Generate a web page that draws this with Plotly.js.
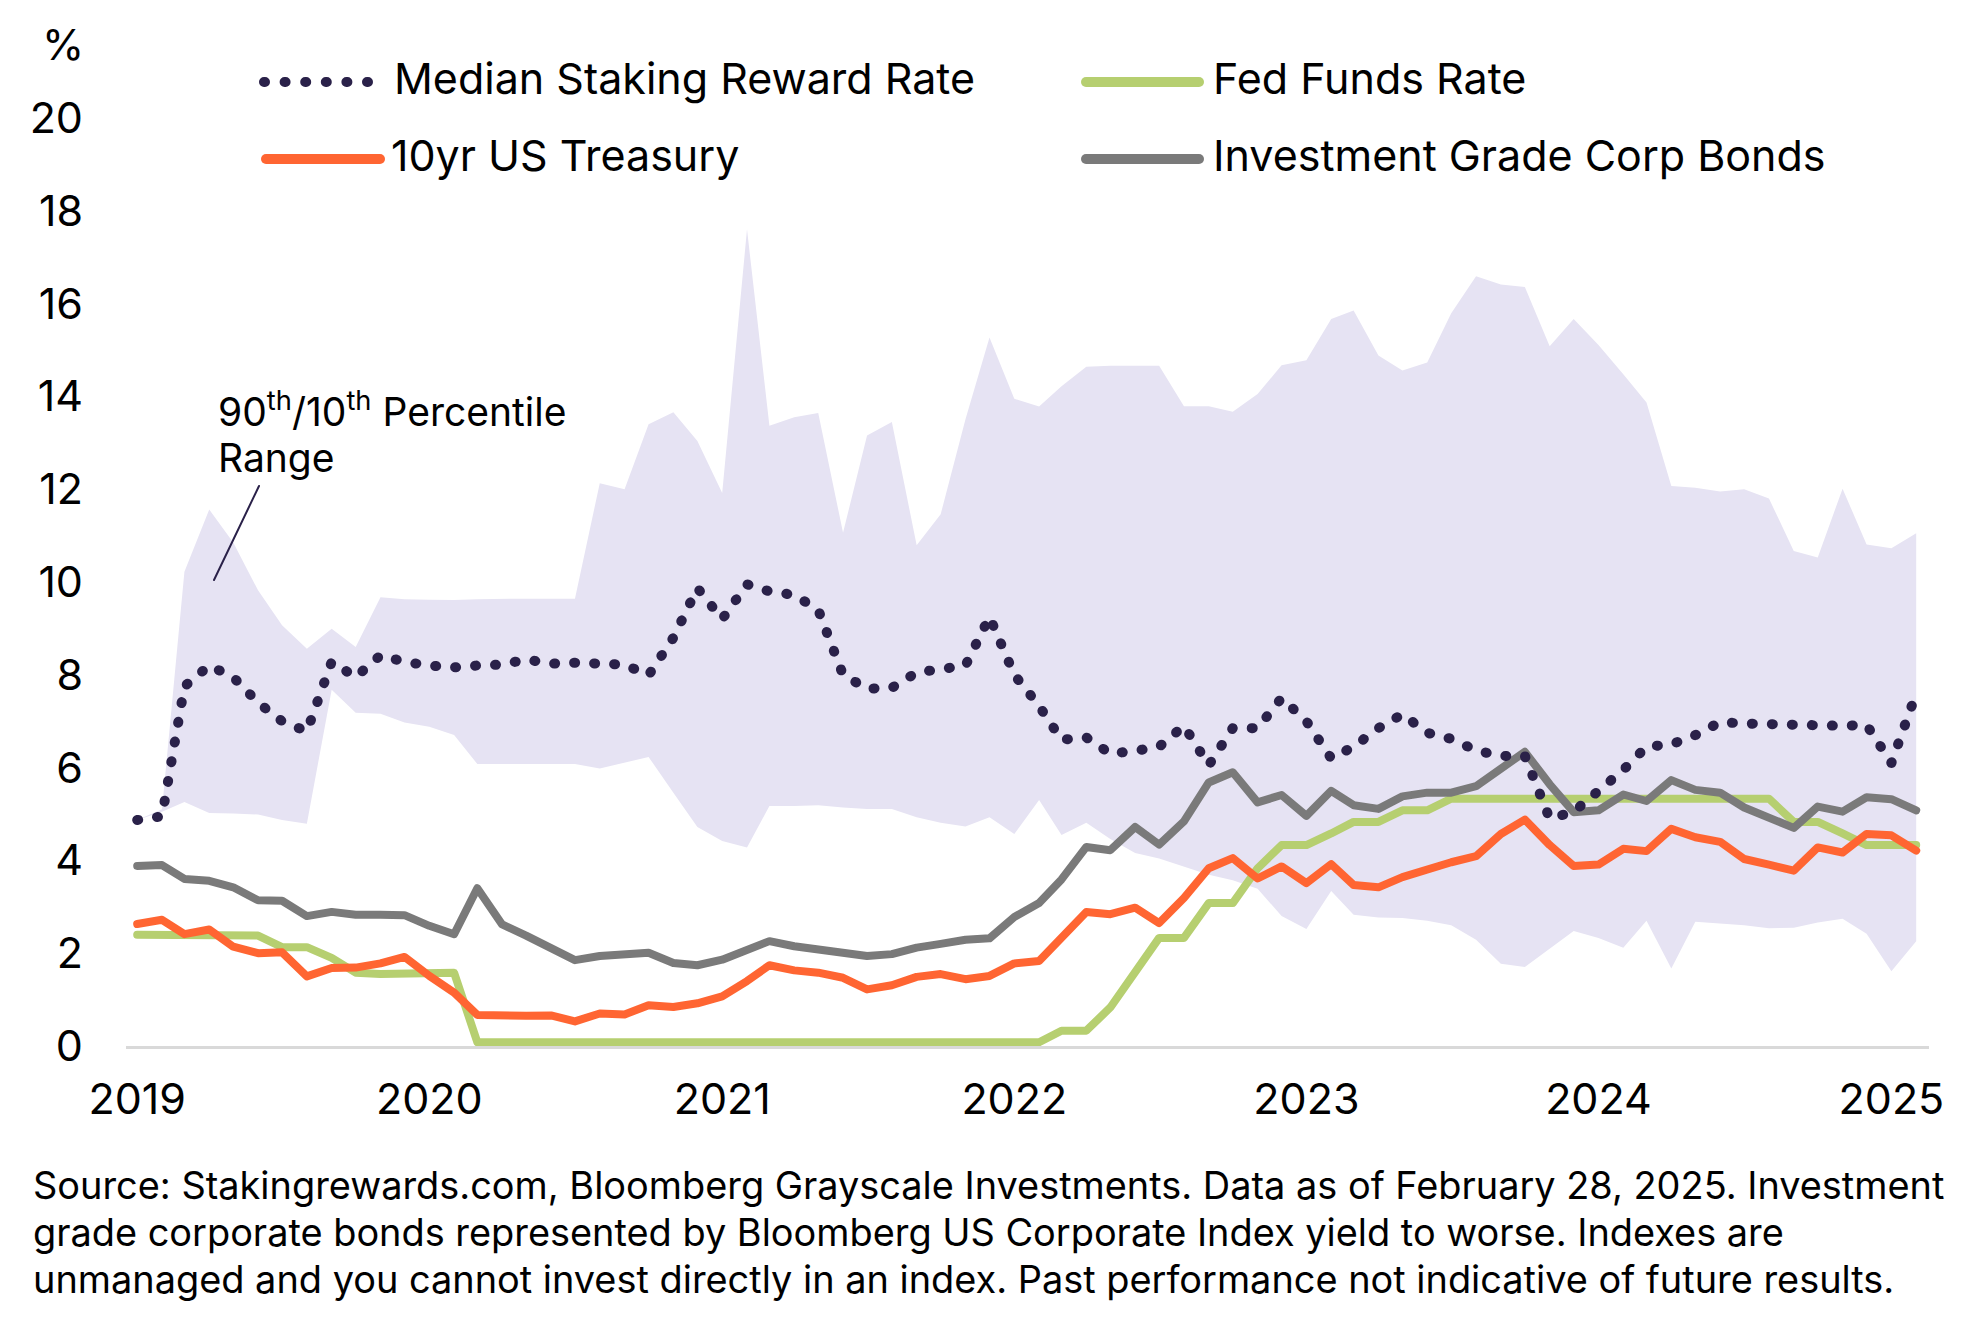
<!DOCTYPE html>
<html>
<head>
<meta charset="utf-8">
<script src="https://cdn.plot.ly/plotly-3.0.1.min.js"></script>
<style>
html,body{margin:0;padding:0;background:#fff;}
#chart{width:1980px;height:1321px;}
</style>
</head>
<body>
<div id="chart"></div>
<script>
// ---- Data (month-end, Jan 2019 – Feb 2025) ----
var months = [
"2019-01","2019-02","2019-03","2019-04","2019-05","2019-06","2019-07","2019-08","2019-09","2019-10","2019-11","2019-12",
"2020-01","2020-02","2020-03","2020-04","2020-05","2020-06","2020-07","2020-08","2020-09","2020-10","2020-11","2020-12",
"2021-01","2021-02","2021-03","2021-04","2021-05","2021-06","2021-07","2021-08","2021-09","2021-10","2021-11","2021-12",
"2022-01","2022-02","2022-03","2022-04","2022-05","2022-06","2022-07","2022-08","2022-09","2022-10","2022-11","2022-12",
"2023-01","2023-02","2023-03","2023-04","2023-05","2023-06","2023-07","2023-08","2023-09","2023-10","2023-11","2023-12",
"2024-01","2024-02","2024-03","2024-04","2024-05","2024-06","2024-07","2024-08","2024-09","2024-10","2024-11","2024-12",
"2025-01","2025-02"];

var medianStaking = [
4.87,4.95,7.75,8.20,7.95,7.40,7.00,6.78,8.28,7.95,8.42,8.28,
8.20,8.16,8.20,8.22,8.33,8.24,8.26,8.24,8.22,7.99,8.80,9.87,
9.20,9.95,9.80,9.72,9.40,8.00,7.70,7.72,8.05,8.12,8.20,9.25,
8.00,7.33,6.60,6.65,6.30,6.36,6.45,6.90,6.05,6.85,6.85,7.50,
7.00,6.20,6.45,6.85,7.15,6.75,6.62,6.37,6.25,6.25,4.90,5.05,
5.50,5.95,6.45,6.50,6.70,6.98,6.95,6.94,6.88,6.88,6.90,6.92,
6.10,7.60];

var pct10 = [
4.87,5.05,5.26,5.02,5.01,4.99,4.87,4.79,7.68,7.18,7.16,6.97,
6.88,6.70,6.08,6.08,6.09,6.08,6.08,5.98,6.11,6.23,5.46,4.72,
4.42,4.28,5.17,5.17,5.19,5.14,5.11,5.11,4.93,4.81,4.73,4.93,
4.57,5.30,4.55,4.81,4.46,4.16,4.04,3.86,3.69,3.57,3.39,2.80,
2.52,3.34,2.83,2.77,2.76,2.70,2.60,2.29,1.77,1.70,2.09,2.48,
2.33,2.12,2.70,1.67,2.68,2.64,2.60,2.54,2.55,2.66,2.74,2.42,
1.61,2.26];

var pct90 = [
4.87,5.10,10.22,11.56,10.85,9.82,9.07,8.56,8.99,8.60,9.67,9.63,
9.62,9.61,9.63,9.64,9.64,9.64,9.64,12.13,12.00,13.40,13.66,13.04,
11.92,17.60,13.37,13.55,13.64,11.06,13.16,13.45,10.79,11.46,13.51,15.27,
13.95,13.78,14.22,14.64,14.66,14.66,14.66,13.79,13.79,13.67,14.05,14.67,
14.78,15.67,15.85,14.88,14.56,14.73,15.79,16.59,16.41,16.36,15.08,15.67,
15.11,14.48,13.87,12.07,12.03,11.95,12.00,11.80,10.67,10.53,12.01,10.81,
10.73,11.05];

var fedFunds = [
2.40,2.40,2.41,2.42,2.38,2.38,2.13,2.13,1.90,1.58,1.55,1.55,
1.55,1.58,0.08,0.08,0.08,0.08,0.08,0.08,0.08,0.08,0.08,0.08,
0.08,0.08,0.08,0.08,0.08,0.08,0.08,0.08,0.08,0.08,0.08,0.08,
0.08,0.08,0.33,0.33,0.83,1.58,2.33,2.33,3.08,3.08,3.83,4.33,
4.33,4.58,4.83,4.83,5.08,5.08,5.33,5.33,5.33,5.33,5.33,5.33,
5.33,5.33,5.33,5.33,5.33,5.33,5.33,5.33,4.83,4.83,4.58,4.33,
4.33,4.33];

var treasury10y = [
2.63,2.72,2.41,2.51,2.14,2.00,2.02,1.50,1.68,1.69,1.78,1.92,
1.51,1.15,0.67,0.64,0.65,0.66,0.53,0.70,0.68,0.88,0.84,0.92,
1.07,1.40,1.74,1.63,1.58,1.47,1.22,1.31,1.49,1.55,1.44,1.51,
1.78,1.83,2.32,2.89,2.84,2.98,2.65,3.19,3.83,4.05,3.61,3.87,
3.51,3.92,3.47,3.42,3.64,3.81,3.96,4.09,4.57,4.88,4.33,3.88,
3.91,4.25,4.20,4.68,4.50,4.40,4.03,3.91,3.78,4.28,4.17,4.57,
4.54,4.21];

var igCorp = [
3.88,3.90,3.60,3.56,3.42,3.14,3.13,2.80,2.89,2.83,2.83,2.82,
2.59,2.41,3.40,2.62,2.38,2.12,1.85,1.94,1.99,2.01,1.79,1.74,
1.86,2.06,2.26,2.15,2.09,2.03,1.94,1.98,2.12,2.20,2.29,2.32,
2.78,3.08,3.59,4.29,4.22,4.72,4.34,4.84,5.68,5.90,5.25,5.41,
4.96,5.50,5.19,5.11,5.38,5.46,5.46,5.60,6.00,6.34,5.64,5.04,
5.08,5.42,5.28,5.73,5.52,5.46,5.14,4.93,4.70,5.16,5.05,5.36,
5.32,5.08];

var yearTicks = ["2019-01-01","2020-01-01","2021-01-01","2022-01-01","2023-01-01","2024-01-01","2025-01-01"];
var yearLabels = ["2019","2020","2021","2022","2023","2024","2025"];
var yTicks = [0,2,4,6,8,10,12,14,16,18,20];

var seriesNames = ["Median Staking Reward Rate","Fed Funds Rate","10yr US Treasury","Investment Grade Corp Bonds"];
var sourceLines = [
"Source: Stakingrewards.com, Bloomberg Grayscale Investments. Data as of February 28, 2025. Investment",
"grade corporate bonds represented by Bloomberg US Corporate Index yield to worse. Indexes are",
"unmanaged and you cannot invest directly in an index. Past performance not indicative of future results."];

// ---- Styling ----
var C = {navy:"#2a2149", band:"#e6e3f3", orange:"#ff6532", green:"#b6cf70", gray:"#7a7a7a", axis:"#d9d9d9"};
var FONT = "Inter, 'Open Sans', sans-serif";

// page geometry (pixels) -> paper coords
var L = 126, R = 51, T = 118, B = 275, W = 1980, H = 1321;
var PW = W - L - R, PH = H - T - B;
function px(x){ return (x - L) / PW; }
function py(y){ return (H - B - y) / PH; }

var data = [
  {x: months, y: pct10, type:"scatter", mode:"lines", line:{width:0, color:C.band}, hoverinfo:"skip", showlegend:false},
  {x: months, y: pct90, type:"scatter", mode:"lines", line:{width:0, color:C.band}, fill:"tonexty", fillcolor:C.band, hoverinfo:"skip", showlegend:false, name:"90th/10th Percentile Range"},
  {x: months, y: fedFunds, type:"scatter", mode:"lines", name:seriesNames[1], line:{color:C.green, width:8}},
  {x: months, y: igCorp, type:"scatter", mode:"lines", name:seriesNames[3], line:{color:C.gray, width:8}},
  {x: months, y: treasury10y, type:"scatter", mode:"lines", name:seriesNames[2], line:{color:C.orange, width:8}},
  {x: months, y: medianStaking, type:"scatter", mode:"lines", name:seriesNames[0], line:{color:C.navy, width:10, dash:"1px,19px"}}
];

var LEG = 43;
var annotations = [
  {text:"%", xref:"paper", yref:"paper", x:px(63), y:py(44), xanchor:"center", yanchor:"middle", showarrow:false, font:{family:FONT, size:43, color:"#000"}},
  {text:seriesNames[0], xref:"paper", yref:"paper", x:px(392), y:py(78), xanchor:"left", yanchor:"middle", showarrow:false, font:{family:FONT, size:LEG, color:"#000"}},
  {text:seriesNames[1], xref:"paper", yref:"paper", x:px(1211), y:py(78), xanchor:"left", yanchor:"middle", showarrow:false, font:{family:FONT, size:LEG, color:"#000"}},
  {text:seriesNames[2], xref:"paper", yref:"paper", x:px(389), y:py(155), xanchor:"left", yanchor:"middle", showarrow:false, font:{family:FONT, size:LEG, color:"#000"}},
  {text:seriesNames[3], xref:"paper", yref:"paper", x:px(1211), y:py(155), xanchor:"left", yanchor:"middle", showarrow:false, font:{family:FONT, size:LEG, color:"#000"}},
  {text:"90<sup>th</sup>/10<sup>th</sup> Percentile", xref:"paper", yref:"paper", x:px(216), y:py(409), xanchor:"left", yanchor:"middle", showarrow:false, font:{family:FONT, size:39, color:"#000"}},
  {text:"Range", xref:"paper", yref:"paper", x:px(216), y:py(457), xanchor:"left", yanchor:"middle", showarrow:false, font:{family:FONT, size:39, color:"#000"}}
];
var srcY = [1185, 1232, 1279];
sourceLines.forEach(function(t, i){
  annotations.push({text:t, xref:"paper", yref:"paper", x:px(31), y:py(srcY[i]), xanchor:"left", yanchor:"middle", showarrow:false, font:{family:FONT, size:37.9, color:"#000"}});
});

var shapes = [
  {type:"line", xref:"paper", yref:"paper", x0:px(264), x1:px(368), y0:py(82), y1:py(82), line:{color:C.navy, width:10, dash:"1px,19.6px"}},
  {type:"line", xref:"paper", yref:"paper", x0:px(1086), x1:px(1199), y0:py(82), y1:py(82), line:{color:C.green, width:10}},
  {type:"line", xref:"paper", yref:"paper", x0:px(266), x1:px(380), y0:py(159), y1:py(159), line:{color:C.orange, width:10}},
  {type:"line", xref:"paper", yref:"paper", x0:px(1086), x1:px(1199), y0:py(159), y1:py(159), line:{color:C.gray, width:10}},
  {type:"line", xref:"paper", yref:"paper", x0:px(259), x1:px(214), y0:py(486), y1:py(580), line:{color:C.navy, width:2}}
];

var layout = {
  width: W, height: H,
  margin: {l:L, r:R, t:T, b:B, pad:0},
  paper_bgcolor:"#fff", plot_bgcolor:"#fff",
  showlegend:false,
  font:{family:FONT, color:"#000"},
  xaxis:{
    type:"date", range:["2018-12-18","2025-02-17"],
    tickmode:"array", tickvals:yearTicks, ticktext:yearLabels,
    showgrid:false, zeroline:false, showline:true, linecolor:C.axis, linewidth:3,
    ticks:"", ticklabelstandoff:13, tickfont:{family:FONT, size:43, color:"#000"}
  },
  yaxis:{
    range:[0,20], tickmode:"array", tickvals:yTicks,
    showgrid:false, zeroline:false, showline:false, ticks:"",
    ticklabelstandoff:42, tickfont:{family:FONT, size:43, color:"#000"}
  },
  annotations: annotations,
  shapes: shapes
};

Plotly.newPlot("chart", data, layout, {staticPlot:true, displayModeBar:false}).then(function(gd){
  gd.querySelectorAll(".scatterlayer .trace path.js-line").forEach(function(p){
    p.style.strokeLinecap = "round";
    p.style.strokeLinejoin = "round";
  });
  gd.querySelectorAll(".shapelayer path").forEach(function(p){
    p.style.strokeLinecap = "round";
  });
});
</script>
</body>
</html>
